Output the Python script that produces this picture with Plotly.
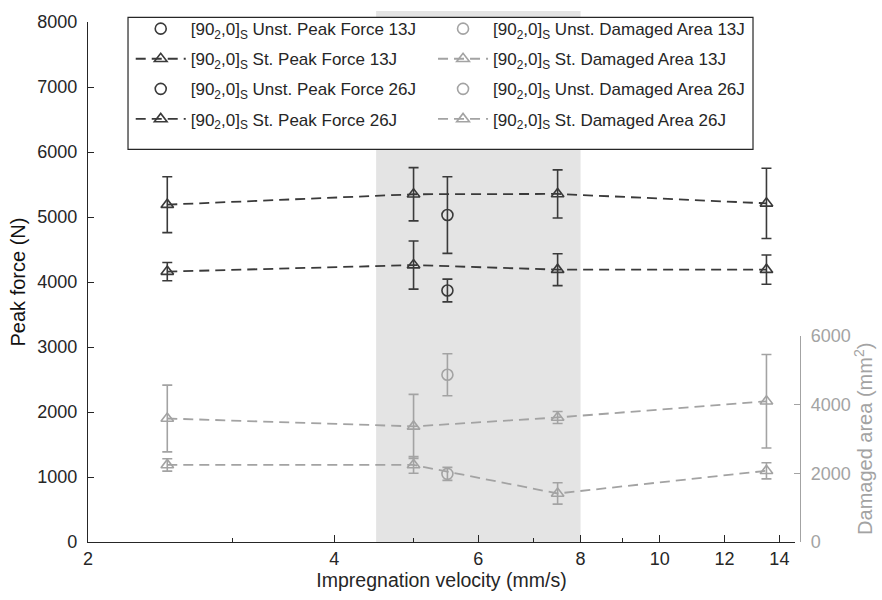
import math
import plotly.graph_objects as go

# Impregnation velocities (mm/s)
velocity = [2.5, 5.0, 7.5, 13.5]
velocity_unst = [5.5]

# Peak force (N)
pf_st_13 = [4160, 4260, 4190, 4190]
pf_st_13_err = [140, 370, 245, 225]
pf_st_26 = [5190, 5350, 5355, 5210]
pf_st_26_err = [430, 410, 370, 540]
pf_unst_13 = [3870]
pf_unst_13_err = [175]
pf_unst_26 = [5030]
pf_unst_26_err = [590]

# Damaged area (mm^2)
da_st_13 = [2240, 2240, 1410, 2070]
da_st_13_err = [180, 240, 310, 235]
da_st_26 = [3590, 3360, 3620, 4090]
da_st_26_err = [970, 930, 175, 1360]
da_unst_13 = [1980]
da_unst_13_err = [190]
da_unst_26 = [4860]
da_unst_26_err = [610]

# Velocity window highlighted in the background
window = [4.5, 8.0]

x_ticks = [2, 4, 6, 8, 10, 12, 14]
x_minor = [3, 5, 7, 9]
pf_ticks = list(range(0, 8001, 1000))
da_ticks = [0, 2000, 4000, 6000]

DARK = "#3a3a3a"
LIGHT = "#a3a3a3"
TEXT = "#262626"
FONT = "Liberation Sans, Arial, sans-serif"
LAY = "[90<sub>2</sub>,0]<sub>S</sub> "

fig = go.Figure()


def add_series(x, y, err, name, color, symbol, dashed, yaxis, legend):
    fig.add_trace(go.Scatter(
        x=x, y=y, name=name, yaxis=yaxis, legend=legend,
        legendgroup=name,
        mode="lines+markers" if dashed else "markers",
        line=dict(color=color, width=1.8, dash="10px,6px"),
        marker=dict(symbol=symbol, size=11, color=color,
                    line=dict(color=color, width=1.6)),
        error_y=dict(type="data", array=err, visible=True,
                     color=color, thickness=1.6, width=5),
    ))


add_series(velocity_unst, pf_unst_13, pf_unst_13_err, LAY + "Unst. Peak Force 13J",
           DARK, "circle-open", False, "y", "legend")
add_series(velocity, pf_st_13, pf_st_13_err, LAY + "St. Peak Force 13J",
           DARK, "triangle-up-open", True, "y", "legend")
add_series(velocity_unst, pf_unst_26, pf_unst_26_err, LAY + "Unst. Peak Force 26J",
           DARK, "circle-open", False, "y", "legend")
add_series(velocity, pf_st_26, pf_st_26_err, LAY + "St. Peak Force 26J",
           DARK, "triangle-up-open", True, "y", "legend")

add_series(velocity_unst, da_unst_13, da_unst_13_err, LAY + "Unst. Damaged Area 13J",
           LIGHT, "circle-open", False, "y2", "legend2")
add_series(velocity, da_st_13, da_st_13_err, LAY + "St. Damaged Area 13J",
           LIGHT, "triangle-up-open", True, "y2", "legend2")
add_series(velocity_unst, da_unst_26, da_unst_26_err, LAY + "Unst. Damaged Area 26J",
           LIGHT, "circle-open", False, "y2", "legend2")
add_series(velocity, da_st_26, da_st_26_err, LAY + "St. Damaged Area 26J",
           LIGHT, "triangle-up-open", True, "y2", "legend2")

# shaded velocity window (runs up to the top edge of the figure)
fig.add_shape(type="rect", xref="x", yref="paper",
              x0=window[0], x1=window[1], y0=0, y1=1.021,
              fillcolor="#e4e4e4", line=dict(width=0), layer="below")

# frame around the two legend columns
fig.add_shape(type="rect", xref="paper", yref="paper",
              x0=0.0562, x1=0.934, y0=0.755, y1=1.009,
              fillcolor="white", line=dict(color=TEXT, width=1.2), layer="above")

legend_common = dict(
    xanchor="left", yanchor="top", orientation="v",
    bgcolor="rgba(0,0,0,0)", borderwidth=0,
    font=dict(family=FONT, size=17, color=TEXT),
    traceorder="grouped", tracegroupgap=5, itemwidth=50,
)

fig.update_layout(
    width=882, height=600,
    margin=dict(l=88, r=82, t=11, b=58),
    paper_bgcolor="white", plot_bgcolor="rgba(0,0,0,0)",
    font=dict(family=FONT, color=TEXT),
    legend=dict(x=0.060, y=1.021, **legend_common),
    legend2=dict(x=0.4846, y=1.021, **legend_common),
    xaxis=dict(
        type="log", domain=[0, 0.993],
        range=[math.log10(2), math.log10(14.63)],
        tickvals=x_ticks, ticktext=[str(v) for v in x_ticks],
        ticks="inside", ticklen=7, tickwidth=1.2, tickcolor=TEXT,
        minor=dict(tickvals=x_minor, ticks="inside", ticklen=4,
                   tickwidth=1.2, tickcolor=TEXT),
        showline=True, linecolor=TEXT, linewidth=1.4,
        showgrid=False, zeroline=False,
        tickfont=dict(size=18, color=TEXT),
        title=dict(text="Impregnation velocity (mm/s)",
                   font=dict(size=19.5, color=TEXT), standoff=4),
    ),
    yaxis=dict(
        range=[0, 8000], tickvals=pf_ticks,
        ticks="inside", ticklen=6, tickwidth=1.2, tickcolor=TEXT,
        showline=True, linecolor=TEXT, linewidth=1.4,
        showgrid=False, zeroline=False,
        ticklabelstandoff=6,
        tickfont=dict(size=18, color=TEXT),
        title=dict(text="Peak force (N)", font=dict(size=20, color="#111111"),
                   standoff=6),
    ),
    yaxis2=dict(
        domain=[0, 0.397], range=[0, 6000], tickvals=da_ticks,
        anchor="free", position=1.0, side="right",
        ticks="inside", ticklen=6, tickwidth=1.2, tickcolor=LIGHT,
        showline=True, linecolor=LIGHT, linewidth=1.4,
        showgrid=False, zeroline=False,
        ticklabelstandoff=6,
        tickfont=dict(size=18, color=LIGHT),
        title=dict(text="Damaged area (mm<sup>2</sup>)",
                   font=dict(size=20, color=LIGHT), standoff=6),
    ),
)

fig.write_html("out.html")
